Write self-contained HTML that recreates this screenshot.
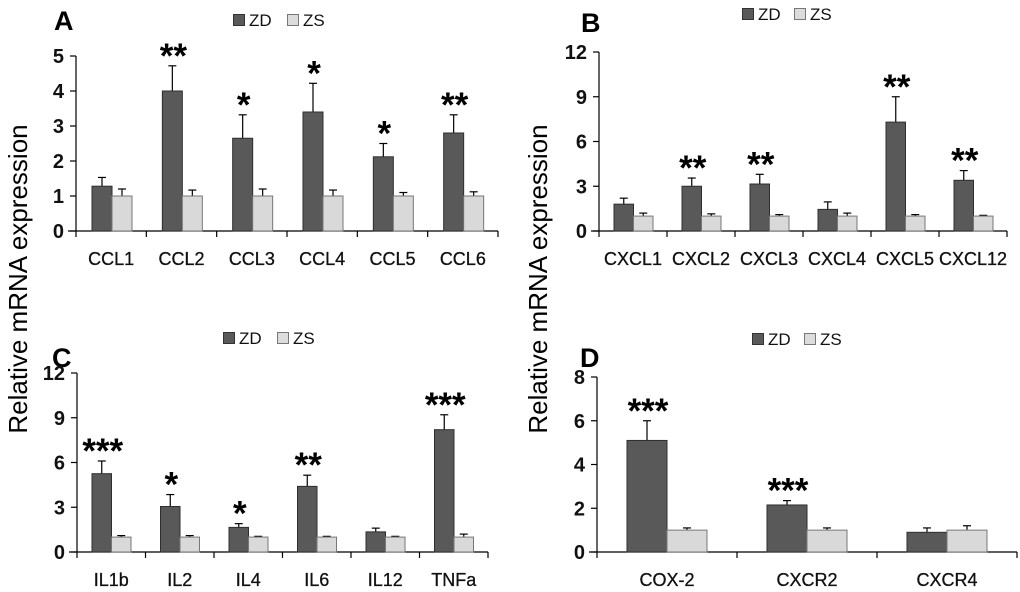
<!DOCTYPE html>
<html><head><meta charset="utf-8">
<style>
html,body{margin:0;padding:0;background:#fff;}
svg{display:block;font-family:"Liberation Sans",Arial,sans-serif;}
</style></head>
<body>
<svg id="fig" width="1020" height="592" viewBox="0 0 1020 592" xmlns="http://www.w3.org/2000/svg">
<text x="27" y="279" transform="rotate(-90 27 279)" text-anchor="middle" font-size="26" fill="#000">Relative mRNA expression</text>
<text x="547" y="279" transform="rotate(-90 547 279)" text-anchor="middle" font-size="26" fill="#000">Relative mRNA expression</text>
</svg>
<script>
// Panel A data
const catsA = ["CCL1","CCL2","CCL3","CCL4","CCL5","CCL6"];
const zdA = [1.28,4.0,2.65,3.4,2.12,2.8];
const zdErrA = [1.53,4.72,3.32,4.22,2.5,3.32];
const zsA = [1,1,1,1,1,1];
const zsErrA = [1.2,1.17,1.2,1.17,1.1,1.12];
const starsA = ["","**","*","*","*","**"];
const ticksA = [0,1,2,3,4,5];
// Panel B data
const catsB = ["CXCL1","CXCL2","CXCL3","CXCL4","CXCL5","CXCL12"];
const zdB = [1.8,3.0,3.15,1.45,7.3,3.4];
const zdErrB = [2.2,3.55,3.8,1.95,9.0,4.05];
const zsB = [1,1,1,1,1,1];
const zsErrB = [1.2,1.15,1.1,1.2,1.1,1.05];
const starsB = ["","**","**","","**","**"];
const ticksB = [0,3,6,9,12];
// Panel C data
const catsC = ["IL1b","IL2","IL4","IL6","IL12","TNFa"];
const zdC = [5.25,3.05,1.65,4.4,1.35,8.2];
const zdErrC = [6.1,3.85,1.9,5.15,1.6,9.2];
const zsC = [1,1,1,1,1,1];
const zsErrC = [1.1,1.1,1.05,1.05,1.05,1.2];
const starsC = ["***","*","*","**","","***"];
const ticksC = [0,3,6,9,12];
// Panel D data
const catsD = ["COX-2","CXCR2","CXCR4"];
const zdD = [5.1,2.15,0.9];
const zdErrD = [6.0,2.35,1.1];
const zsD = [1,1,1];
const zsErrD = [1.1,1.1,1.2];
const starsD = ["***","***",""];
const ticksD = [0,2,4,6,8];

const NS = "http://www.w3.org/2000/svg";
const svg = document.getElementById("fig");
function mk(tag, attrs, parent, txt){
  const e = document.createElementNS(NS, tag);
  for (const k in attrs) e.setAttribute(k, attrs[k]);
  if (txt !== undefined) e.textContent = txt;
  (parent||svg).appendChild(e);
  return e;
}

function panel(p){
  const g = mk("g", {});
  
  
  const ymax = p.ticks[p.ticks.length-1];
  const yS = v => p.y0 - (v/ymax)*(p.y0 - p.yTop);
  const cw = (p.x1 - p.x0)/p.cats.length;
  const L = mk("text", {x:p.lx, y:p.ly, "font-size":27, "font-weight":"bold", fill:"#000"}, g, p.letter);
  
  
  const lg = mk("g", {}, g);
  
  
  const e1 = mk("rect", {x:p.legX+0.5, y:p.legY+0.5, width:11, height:11, fill:"#595959", stroke:"#333"}, lg);
  
  
  const t1 = mk("text", {x:p.legX+16, y:p.legY+12, "font-size":17, fill:"#111"}, lg, "ZD");
  
  
  const e2 = mk("rect", {x:p.legX+p.legGap+0.5, y:p.legY+0.5, width:11, height:11, fill:"#dcdcdc", stroke:"#777"}, lg);
  
  
  const t2 = mk("text", {x:p.legX+p.legGap+16, y:p.legY+12, "font-size":17, fill:"#111"}, lg, "ZS");
  
  
  const ya = mk("line", {x1:p.x0, y1:p.yTop, x2:p.x0, y2:p.y0, stroke:"#000", "stroke-width":1.2}, g);
  
  
  p.ticks.forEach(t => {
    const y = yS(t);
    const tk = mk("line", {x1:p.x0-6, y1:y, x2:p.x0, y2:y, stroke:"#000", "stroke-width":1.2}, g);
    
    
    const tl = mk("text", {x:p.x0-12, y:y+7, "font-size":20, "font-weight":"bold", "text-anchor":"end", fill:"#111"}, g, String(t));
    
    
  });
  const xa = mk("line", {x1:p.x0-8, y1:p.y0, x2:p.x1, y2:p.y0, stroke:"#000", "stroke-width":1.2}, g);
  
  
  for (let i=0;i<=p.cats.length;i++){
    const x = p.x0 + i*cw;
    const tk = mk("line", {x1:x, y1:p.y0, x2:x, y2:p.y0+6, stroke:"#000", "stroke-width":1.2}, g);
    
    
  }
  p.cats.forEach((c,i) => {
    const cx = p.x0 + i*cw + cw/2;
    const bx = p.x0 + i*cw + p.off;
    const bw = p.bw;
    const yz = yS(p.zd[i]);
    const ez = yS(p.zdErr[i]);
    const el = mk("line", {x1:bx+bw/2, y1:ez, x2:bx+bw/2, y2:yz, stroke:"#000", "stroke-width":1.2}, g);
    
    
    const ec = mk("line", {x1:bx+bw/2-4, y1:ez, x2:bx+bw/2+4, y2:ez, stroke:"#000", "stroke-width":1.2}, g);
    
    
    const b1 = mk("rect", {x:bx, y:yz, width:bw, height:p.y0-yz, fill:"#595959", stroke:"#2e2e2e", "stroke-width":1}, g);
    
    
    const ys = yS(p.zs[i]);
    const es = yS(p.zsErr[i]);
    const el2 = mk("line", {x1:bx+bw*1.5, y1:es, x2:bx+bw*1.5, y2:ys, stroke:"#000", "stroke-width":1.2}, g);
    
    
    const ec2 = mk("line", {x1:bx+bw*1.5-4, y1:es, x2:bx+bw*1.5+4, y2:es, stroke:"#000", "stroke-width":1.2}, g);
    
    
    const b2 = mk("rect", {x:bx+bw, y:ys, width:bw, height:p.y0-ys, fill:"#d9d9d9", stroke:"#777", "stroke-width":1}, g);
    
    
    if (p.stars[i]) {
      const s = mk("text", {x:bx+bw/2+1, y:ez+2, "font-size":35, "font-weight":"bold", "text-anchor":"middle", fill:"#000"}, g, p.stars[i]);
      
      
    }
    const cl = mk("text", {x:cx, y:p.y0+34, "font-size":18, "text-anchor":"middle", fill:"#111", stroke:"#111", "stroke-width":0.3}, g, c);
    
    
  });
}

panel({letter:"A", lx:54, ly:30, legX:233, legY:14, legGap:54, x0:76, x1:498, y0:231, yTop:56,
  cats:catsA, zd:zdA, zdErr:zdErrA, zs:zsA, zsErr:zsErrA, stars:starsA, ticks:ticksA, off:16, bw:20});
panel({letter:"B", lx:581, ly:32, legX:742, legY:8, legGap:52, x0:599, x1:1007, y0:231, yTop:52,
  cats:catsB, zd:zdB, zdErr:zdErrB, zs:zsB, zsErr:zsErrB, stars:starsB, ticks:ticksB, off:15, bw:19.5});
panel({letter:"C", lx:52, ly:367, legX:223, legY:332, legGap:54, x0:77, x1:488, y0:552, yTop:373,
  cats:catsC, zd:zdC, zdErr:zdErrC, zs:zsC, zsErr:zsErrC, stars:starsC, ticks:ticksC, off:15, bw:19.5});
panel({letter:"D", lx:580, ly:367, legX:752, legY:333, legGap:52, x0:597, x1:1017, y0:552, yTop:377,
  cats:catsD, zd:zdD, zdErr:zdErrD, zs:zsD, zsErr:zsErrD, stars:starsD, ticks:ticksD, off:30, bw:40});
</script>
</body></html>
